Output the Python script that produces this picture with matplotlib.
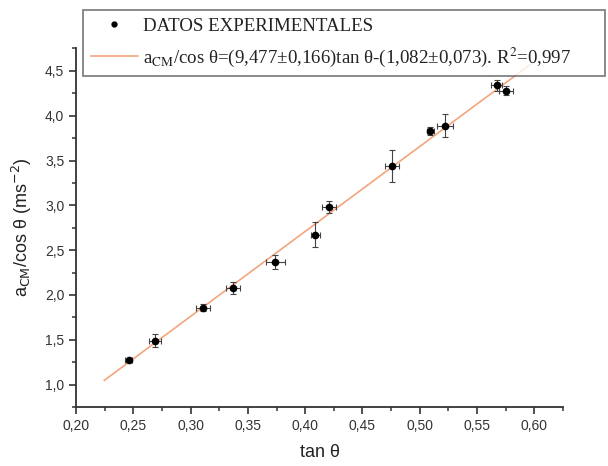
import matplotlib
matplotlib.use("Agg")
import matplotlib.pyplot as plt
from matplotlib.ticker import MultipleLocator, FuncFormatter
from matplotlib.font_manager import FontProperties
from matplotlib.lines import Line2D
import numpy as np

tan_theta = [0.246, 0.269, 0.311, 0.337, 0.374, 0.409, 0.421, 0.476, 0.509, 0.522, 0.567, 0.575]
a_cos = [1.27, 1.49, 1.86, 2.08, 2.37, 2.67, 2.98, 3.44, 3.83, 3.89, 4.34, 4.28]
err_x = [0.003, 0.005, 0.006, 0.006, 0.008, 0.004, 0.006, 0.006, 0.003, 0.007, 0.005, 0.006]
err_y = [0.02, 0.07, 0.04, 0.07, 0.08, 0.14, 0.07, 0.18, 0.04, 0.13, 0.06, 0.05]

# ajuste lineal
slope = 9.477
intercept = -1.082
fit_range = [0.2247, 0.60]

fit_label = r"a$_{\mathrm{CM}}$/cos θ=(9,477±0,166)tan θ-(1,082±0,073). R$^{2}$=0,997"
data_label = "DATOS EXPERIMENTALES"

fig = plt.figure(figsize=(6.08, 4.66), dpi=100)
ax = fig.add_axes([0.125, 0.1266, 0.801, 0.7694])

xf = np.array(fit_range)
ax.plot(xf, slope * xf + intercept, color="#f3a57f", lw=1.2, zorder=1)
ax.errorbar(tan_theta, a_cos, xerr=err_x, yerr=err_y, fmt="o", ms=4.5,
            color="black", ecolor="#444444", elinewidth=0.8, capsize=2.5,
            capthick=0.8, zorder=3)

ax.set_xlim(0.20, 0.625)
ax.set_ylim(0.75, 4.75)
ax.xaxis.set_major_locator(MultipleLocator(0.05))
ax.xaxis.set_minor_locator(MultipleLocator(0.025))
ax.yaxis.set_major_locator(MultipleLocator(0.5))
ax.yaxis.set_minor_locator(MultipleLocator(0.25))
ax.xaxis.set_major_formatter(FuncFormatter(lambda v, p: f"{v:.2f}".replace(".", ",")))
ax.yaxis.set_major_formatter(FuncFormatter(lambda v, p: f"{v:.1f}".replace(".", ",")))

for s in ["top", "right"]:
    ax.spines[s].set_visible(False)
for s in ["left", "bottom"]:
    ax.spines[s].set_color("#333333")
    ax.spines[s].set_linewidth(1.3)

ax.tick_params(which="major", direction="out", length=5, width=1.2, color="#333333",
               labelsize=10, labelcolor="#333333")
ax.tick_params(which="minor", direction="out", length=3, width=1.1, color="#333333")
for lab in ax.get_xticklabels() + ax.get_yticklabels():
    lab.set_family("Liberation Sans")

ax.set_xlabel("tan θ", family="Liberation Sans", fontsize=13, color="#222222", labelpad=8)
ax.set_ylabel(r"a$_{\mathrm{CM}}$/cos θ (ms$^{-2}$)", family="Liberation Sans",
              fontsize=13, color="#222222", labelpad=8, math_fontfamily="dejavusans")

handles = [Line2D([], [], ls="none", marker="o", ms=3.5, color="black"),
           Line2D([], [], color="#f3a57f", lw=1.2)]
prop = FontProperties(family="Liberation Serif", size=13.6, math_fontfamily="stix")
leg = fig.legend(handles, [data_label, fit_label], prop=prop,
                 bbox_to_anchor=(0.1365, 0.843, 0.8585, 0.1355), loc="upper left",
                 mode="expand", frameon=True, fancybox=False, handlelength=2.5,
                 handletextpad=0.3, labelspacing=0.55, borderpad=0.4, borderaxespad=0)
leg.get_frame().set_edgecolor("#555555")
leg.get_frame().set_linewidth(1.2)
for t in leg.get_texts():
    t.set_color("#222222")

plt.savefig("out.png", dpi=100)
